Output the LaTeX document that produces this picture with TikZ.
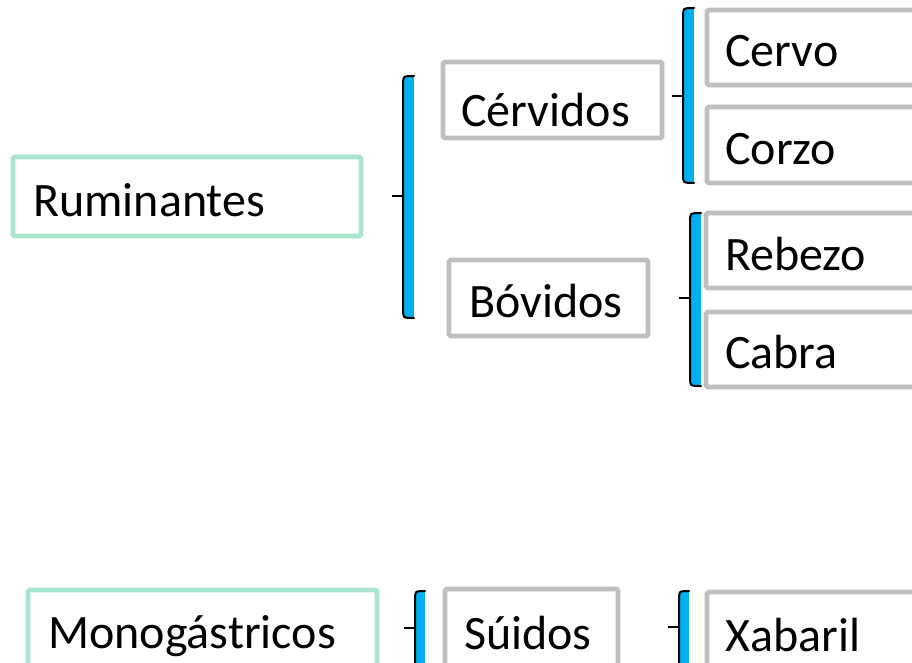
\documentclass[tikz,border=0pt]{standalone}
\usepackage{fontspec}
\setmainfont{Carlito}
\definecolor{boxgray}{HTML}{BFBFBF}
\definecolor{boxgreen}{HTML}{A9E4CD}
\definecolor{braceblue}{HTML}{00B0F0}
\begin{document}
\begin{tikzpicture}[x=1pt,y=-1pt,
  gbox/.style={draw=boxgray,line width=4.6pt,rounded corners=1.5pt},
  tbox/.style={draw=boxgreen,line width=4.6pt,rounded corners=1.5pt},
  lbl/.style={anchor=base west,inner sep=0pt,font=\fontsize{48}{56}\selectfont},
  bline/.style={draw=black,line width=2pt},
  bfill/.style={fill=braceblue,draw=none}]
\useasboundingbox (0,0) rectangle (912,663);
% boxes
\draw[tbox] (13,157) rectangle (361,236);
\node[lbl] (rum) at (33,216) {Ruminantes};
\draw[tbox] (28,590) rectangle (377,700);
\node[lbl] (mono) at (48,648) {Monogástricos};
\draw[gbox] (443,62) rectangle (662,138);
\node[lbl] (cerv) at (461,127) {Cérvidos};
\draw[gbox] (449,260) rectangle (648,336);
\node[lbl] (bov) at (469,317) {Bóvidos};
\draw[gbox] (445,589) rectangle (618,700);
\node[lbl] (sui) at (464,649) {Súidos};
\draw[gbox] (707,10) rectangle (950,85);
\node[lbl] (cervo) at (725,67) {Cervo};
\draw[gbox] (707,107) rectangle (950,183);
\node[lbl] (corzo) at (725,165) {Corzo};
\draw[gbox] (706,213) rectangle (950,288);
\node[lbl] (rebezo) at (725,270) {Rebezo};
\draw[gbox] (706,312) rectangle (950,387);
\node[lbl] (cabra) at (725,368) {Cabra};
\draw[gbox] (707,592) rectangle (950,700);
\node[lbl] (xab) at (725,651) {Xabaril};
% braces: #1 x of line, #2 top, #3 bottom, #4 mid, #5 blue width
\newcommand{\mybrace}[5]{%
  \fill[braceblue] (#1,#2) rectangle ({#1+#5},#3);
  \draw[bline,line cap=round,line join=round] ({#1+#5},#2) .. controls ({#1+1},#2) .. (#1,{#2+5}) -- (#1,{#3-5}) .. controls ({#1+1},#3) .. ({#1+#5},#3);
  \draw[bline] ({#1-11},#4) -- (#1,#4);}
\mybrace{403}{76}{318}{196}{11}
\mybrace{683}{8}{183}{96}{11}
\mybrace{690}{213}{386}{298}{11}
\mybrace{415}{591}{720}{628}{10}
\mybrace{679}{591}{720}{627}{10}
\end{tikzpicture}
\end{document}
